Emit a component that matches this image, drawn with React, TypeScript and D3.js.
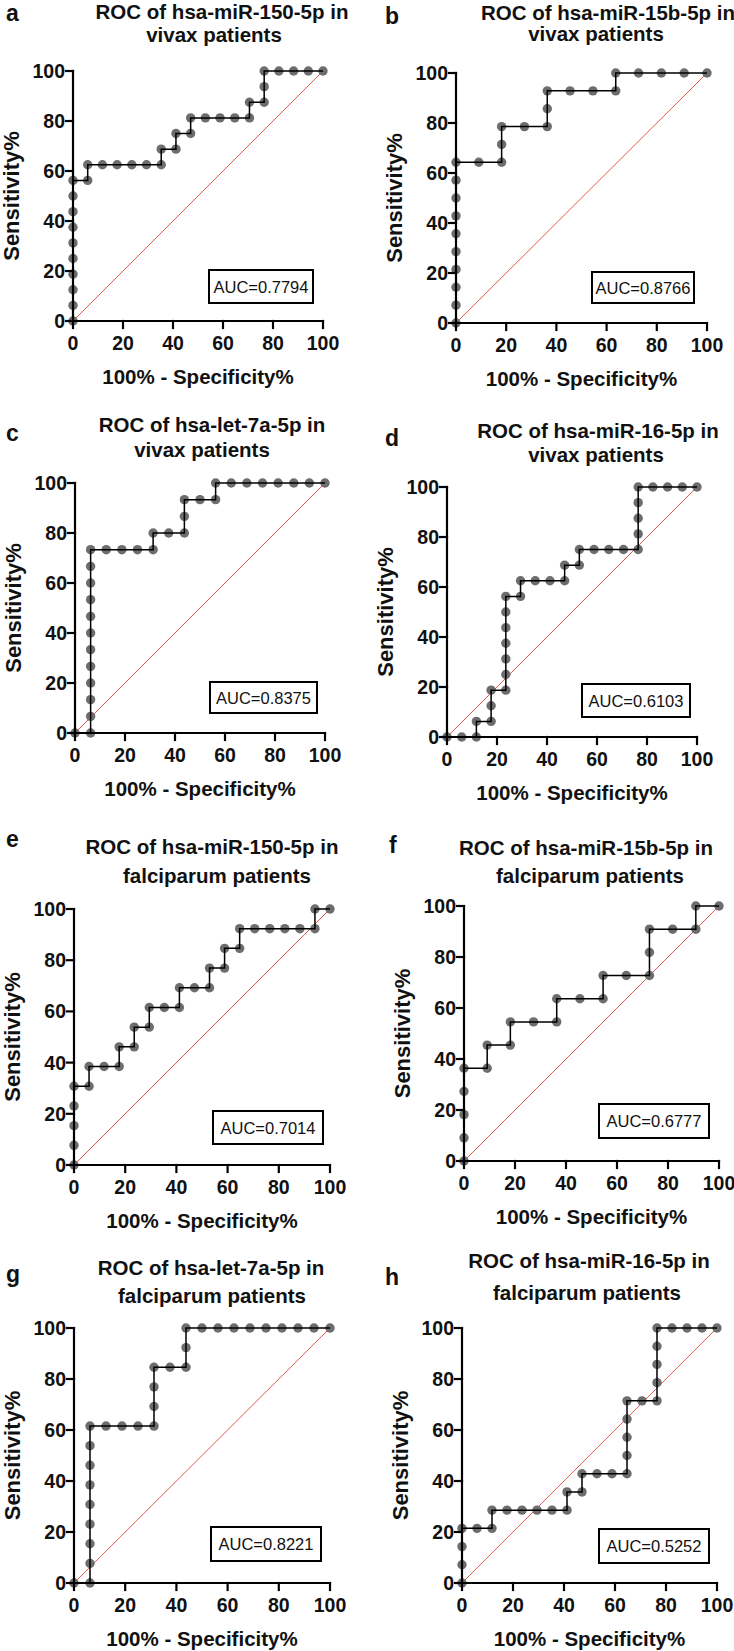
import React from "react";
import * as d3 from "d3";

// ROC points as [100% - Specificity%, Sensitivity%]
const rocA: [number, number][] = [
  [0, 0], [0, 6.25], [0, 12.5], [0, 18.75], [0, 25], [0, 31.25], [0, 37.5], [0, 43.75], [0, 50], [0, 56.25],
  [5.88, 56.25], [5.88, 62.5], [11.76, 62.5], [17.65, 62.5], [23.53, 62.5], [29.41, 62.5], [35.29, 62.5],
  [35.29, 68.75], [41.18, 68.75], [41.18, 75], [47.06, 75], [47.06, 81.25], [52.94, 81.25], [58.82, 81.25],
  [64.71, 81.25], [70.59, 81.25], [70.59, 87.5], [76.47, 87.5], [76.47, 93.75], [76.47, 100], [82.35, 100],
  [88.24, 100], [94.12, 100], [100, 100],
];
const rocB: [number, number][] = [
  [0, 0], [0, 7.14], [0, 14.29], [0, 21.43], [0, 28.57], [0, 35.71], [0, 42.86], [0, 50], [0, 57.14], [0, 64.29],
  [9.09, 64.29], [18.18, 64.29], [18.18, 71.43], [18.18, 78.57], [27.27, 78.57], [36.36, 78.57], [36.36, 85.71],
  [36.36, 92.86], [45.45, 92.86], [54.55, 92.86], [63.64, 92.86], [63.64, 100], [72.73, 100], [81.82, 100],
  [90.91, 100], [100, 100],
];
const rocC: [number, number][] = [
  [0, 0], [6.25, 0], [6.25, 6.67], [6.25, 13.33], [6.25, 20], [6.25, 26.67], [6.25, 33.33], [6.25, 40],
  [6.25, 46.67], [6.25, 53.33], [6.25, 60], [6.25, 66.67], [6.25, 73.33], [12.5, 73.33], [18.75, 73.33],
  [25, 73.33], [31.25, 73.33], [31.25, 80], [37.5, 80], [43.75, 80], [43.75, 86.67], [43.75, 93.33],
  [50, 93.33], [56.25, 93.33], [56.25, 100], [62.5, 100], [68.75, 100], [75, 100], [81.25, 100], [87.5, 100],
  [93.75, 100], [100, 100],
];
const rocD: [number, number][] = [
  [0, 0], [5.88, 0], [11.76, 0], [11.76, 6.25], [17.65, 6.25], [17.65, 12.5], [17.65, 18.75], [23.53, 18.75],
  [23.53, 25], [23.53, 31.25], [23.53, 37.5], [23.53, 43.75], [23.53, 50], [23.53, 56.25], [29.41, 56.25],
  [29.41, 62.5], [35.29, 62.5], [41.18, 62.5], [47.06, 62.5], [47.06, 68.75], [52.94, 68.75], [52.94, 75],
  [58.82, 75], [64.71, 75], [70.59, 75], [76.47, 75], [76.47, 81.25], [76.47, 87.5], [76.47, 93.75],
  [76.47, 100], [82.35, 100], [88.24, 100], [94.12, 100], [100, 100],
];
const rocE: [number, number][] = [
  [0, 0], [0, 7.69], [0, 15.38], [0, 23.08], [0, 30.77], [5.88, 30.77], [5.88, 38.46], [11.76, 38.46],
  [17.65, 38.46], [17.65, 46.15], [23.53, 46.15], [23.53, 53.85], [29.41, 53.85], [29.41, 61.54],
  [35.29, 61.54], [41.18, 61.54], [41.18, 69.23], [47.06, 69.23], [52.94, 69.23], [52.94, 76.92],
  [58.82, 76.92], [58.82, 84.62], [64.71, 84.62], [64.71, 92.31], [70.59, 92.31], [76.47, 92.31],
  [82.35, 92.31], [88.24, 92.31], [94.12, 92.31], [94.12, 100], [100, 100],
];
const rocF: [number, number][] = [
  [0, 0], [0, 9.09], [0, 18.18], [0, 27.27], [0, 36.36], [9.09, 36.36], [9.09, 45.45], [18.18, 45.45],
  [18.18, 54.55], [27.27, 54.55], [36.36, 54.55], [36.36, 63.64], [45.45, 63.64], [54.55, 63.64],
  [54.55, 72.73], [63.64, 72.73], [72.73, 72.73], [72.73, 81.82], [72.73, 90.91], [81.82, 90.91],
  [90.91, 90.91], [90.91, 100], [100, 100],
];
const rocG: [number, number][] = [
  [0, 0], [6.25, 0], [6.25, 7.69], [6.25, 15.38], [6.25, 23.08], [6.25, 30.77], [6.25, 38.46], [6.25, 46.15],
  [6.25, 53.85], [6.25, 61.54], [12.5, 61.54], [18.75, 61.54], [25, 61.54], [31.25, 61.54], [31.25, 69.23],
  [31.25, 76.92], [31.25, 84.62], [37.5, 84.62], [43.75, 84.62], [43.75, 92.31], [43.75, 100], [50, 100],
  [56.25, 100], [62.5, 100], [68.75, 100], [75, 100], [81.25, 100], [87.5, 100], [93.75, 100], [100, 100],
];
const rocH: [number, number][] = [
  [0, 0], [0, 7.14], [0, 14.29], [0, 21.43], [5.88, 21.43], [11.76, 21.43], [11.76, 28.57], [17.65, 28.57],
  [23.53, 28.57], [29.41, 28.57], [35.29, 28.57], [41.18, 28.57], [41.18, 35.71], [47.06, 35.71],
  [47.06, 42.86], [52.94, 42.86], [58.82, 42.86], [64.71, 42.86], [64.71, 50], [64.71, 57.14], [64.71, 64.29],
  [64.71, 71.43], [70.59, 71.43], [76.47, 71.43], [76.47, 78.57], [76.47, 85.71], [76.47, 92.86],
  [76.47, 100], [82.35, 100], [88.24, 100], [94.12, 100], [100, 100],
];

const panelLetters = ["a", "b", "c", "d", "e", "f", "g", "h"];
const titleLine1 = [
  "ROC of hsa-miR-150-5p in", "ROC of hsa-miR-15b-5p in",
  "ROC of hsa-let-7a-5p in", "ROC of hsa-miR-16-5p in",
  "ROC of hsa-miR-150-5p in", "ROC of hsa-miR-15b-5p in",
  "ROC of hsa-let-7a-5p in", "ROC of hsa-miR-16-5p in",
];
const titleLine2 = [
  "vivax patients", "vivax patients", "vivax patients", "vivax patients",
  "falciparum patients", "falciparum patients", "falciparum patients", "falciparum patients",
];
const aucValues = ["0.7794", "0.8766", "0.8375", "0.6103", "0.7014", "0.6777", "0.8221", "0.5252"];
const rocSeries = [rocA, rocB, rocC, rocD, rocE, rocF, rocG, rocH];
const axisTicks = [0, 20, 40, 60, 80, 100];

type Layout = {
  x0: number; x1: number; yTop: number; yBot: number;
  t1x: number; t2x: number; t1y: number; t2y: number;
  lx: number; ly: number;
  box: [number, number, number, number];
};
const layouts: Layout[] = [
  { x0: 73, x1: 323, yTop: 71, yBot: 321, t1x: 222, t2x: 214, t1y: 19, t2y: 42, lx: 6, ly: 21, box: [209, 270, 313, 303] },
  { x0: 456, x1: 707, yTop: 73, yBot: 323, t1x: 608, t2x: 596, t1y: 20, t2y: 41, lx: 385, ly: 24, box: [592, 272, 694, 303] },
  { x0: 75, x1: 325, yTop: 483, yBot: 733, t1x: 212, t2x: 202, t1y: 432, t2y: 457, lx: 6, ly: 441, box: [210, 682, 317, 713] },
  { x0: 447, x1: 697, yTop: 487, yBot: 737, t1x: 598, t2x: 596, t1y: 438, t2y: 462, lx: 385, ly: 446, box: [582, 684, 690, 717] },
  { x0: 74, x1: 330, yTop: 909, yBot: 1165, t1x: 212, t2x: 217, t1y: 854, t2y: 883, lx: 6, ly: 847, box: [213, 1111, 323, 1144] },
  { x0: 464, x1: 719, yTop: 906, yBot: 1161, t1x: 586, t2x: 590, t1y: 855, t2y: 883, lx: 389, ly: 853, box: [599, 1104, 709, 1138] },
  { x0: 74, x1: 330, yTop: 1328, yBot: 1583, t1x: 211, t2x: 212, t1y: 1275, t2y: 1303, lx: 6, ly: 1282, box: [211, 1527, 321, 1561] },
  { x0: 462, x1: 717, yTop: 1328, yBot: 1583, t1x: 589, t2x: 587, t1y: 1268, t2y: 1300, lx: 385, ly: 1285, box: [599, 1529, 709, 1563] },
];

const FONT = "'Liberation Sans', Arial, Helvetica, sans-serif";

const RocPanel = ({ i }: { i: number }) => {
  const L = layouts[i];
  const data = rocSeries[i];
  const x = d3.scaleLinear().domain([0, 100]).range([L.x0, L.x1]);
  const y = d3.scaleLinear().domain([0, 100]).range([L.yBot, L.yTop]);
  const line = d3.line<[number, number]>().x((d) => x(d[0])).y((d) => y(d[1]));
  const [bx0, by0, bx1, by1] = L.box;
  const tick = 7;

  return (
    <g fontFamily={FONT} fill="#111">
      <text x={L.lx} y={L.ly} fontSize={23} fontWeight="bold">{panelLetters[i]}</text>
      <text x={L.t1x} y={L.t1y} fontSize={20.5} fontWeight="bold" textAnchor="middle">{titleLine1[i]}</text>
      <text x={L.t2x} y={L.t2y} fontSize={20.5} fontWeight="bold" textAnchor="middle">{titleLine2[i]}</text>

      {/* chance line */}
      <line x1={x(0)} y1={y(0)} x2={x(100)} y2={y(100)} stroke="#e5443a" strokeWidth={0.9} />

      {/* AUC box */}
      <rect x={bx0} y={by0} width={bx1 - bx0} height={by1 - by0} fill="white" stroke="black" strokeWidth={2} />
      <text x={(bx0 + bx1) / 2} y={(by0 + by1) / 2 + 6} fontSize={16.5} textAnchor="middle">
        AUC={aucValues[i]}
      </text>

      {data.map((d, k) => (
        <circle key={k} cx={x(d[0])} cy={y(d[1])} r={4.7} fill="#6d6d6d" />
      ))}
      <path d={line(data) || ""} fill="none" stroke="black" strokeWidth={1.5} />

      {/* axes */}
      <g stroke="black" strokeWidth={2.2} strokeLinecap="square">
        <line x1={x(0)} y1={y(0)} x2={x(0)} y2={y(100)} />
        <line x1={x(0)} y1={y(0)} x2={x(100)} y2={y(0)} />
        {axisTicks.map((t) => (
          <line key={"xt" + t} x1={x(t)} y1={y(0)} x2={x(t)} y2={y(0) + tick} />
        ))}
        {axisTicks.map((t) => (
          <line key={"yt" + t} x1={x(0) - tick} y1={y(t)} x2={x(0)} y2={y(t)} />
        ))}
      </g>
      {axisTicks.map((t) => (
        <text key={"xl" + t} x={x(t)} y={y(0) + 29} fontSize={19.5} fontWeight="bold" textAnchor="middle">{t}</text>
      ))}
      {axisTicks.map((t) => (
        <text key={"yl" + t} x={x(0) - tick - 1} y={y(t) + 7} fontSize={19.5} fontWeight="bold" textAnchor="end">{t}</text>
      ))}
      <text x={(L.x0 + L.x1) / 2} y={L.yBot + 63} fontSize={20.5} fontWeight="bold" textAnchor="middle">
        100% - Specificity%
      </text>
      <text
        transform={`translate(${L.x0 - 62},${(L.yTop + L.yBot) / 2}) rotate(-90)`}
        dy="0.36em"
        fontSize={22}
        fontWeight="bold"
        textAnchor="middle"
      >
        Sensitivity%
      </text>
    </g>
  );
};

export default function App() {
  return (
    <svg
      width={734}
      height={1651}
      style={{ position: "absolute", left: 0, top: 0, background: "white" }}
    >
      <rect width={734} height={1651} fill="white" />
      {layouts.map((_, i) => (
        <RocPanel key={i} i={i} />
      ))}
    </svg>
  );
}
